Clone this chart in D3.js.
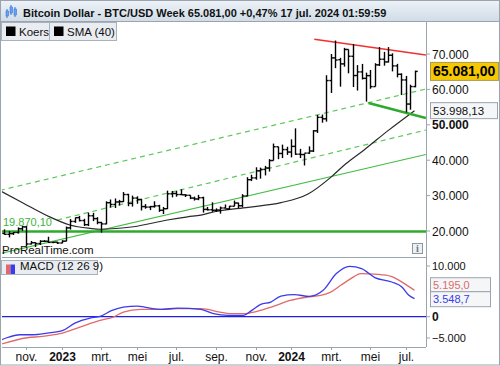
<!DOCTYPE html>
<html>
<head>
<meta charset="utf-8">
<script src="https://cdn.jsdelivr.net/npm/d3@7"></script>
<style>
  body { margin: 0; background: #fff; }
  svg { display: block; font-family: "Liberation Sans", Arial, sans-serif; }
</style>
</head>
<body>
<div id="chart"></div>
<script>
// weekly bars, first monday 2022-10-03
const firstWeek = "2022-10-03";
const opens  = [19310,19070,19260,19570,20630,21160,16330,16700,16460,17090,17100,16780,16840,16610,17130,20880,22700,23770,22950,21790,24300,23500,22400,22000,28000,27500,28200,28300,30300,27800,29300,28900,26900,26750,26900,27100,25850,26300,30500,30600,30300,30230,30090,29300,29050,29400,26100,26000,25850,25900,26500,26250,27000,27900,27150,29900,34500,35000,37000,37400,37800,39900,43800,41900,43000,42300,43900,41700,41600,42000,42600,48300,52100,51700,62500,68900,68390,67210,71280,69360,63920,64940,63120,63890,60790,66940,68520,67760,69640,66640,64260,62670,55860,60800];
const highs  = [20460,19950,19700,21010,21470,21470,17190,16800,17390,17430,18380,16960,16970,17400,21260,23370,23800,24250,23450,25200,25130,23900,22600,28400,28900,29200,28800,31000,30500,30000,29800,29100,27600,27100,28400,27400,26800,31400,31300,31400,31800,30400,30100,29700,30200,29700,26800,28100,26400,26900,27500,27100,28600,28000,30400,35200,35900,38000,37900,38400,40300,44700,43800,44400,43800,45900,49000,43200,41900,43900,48500,52800,52900,64000,70000,73800,68920,71730,71290,72800,66870,67200,64730,65500,67400,71950,70600,71950,70190,67220,64540,63800,61340,65300];
const lows   = [18960,18190,18890,19260,20050,15590,16240,15480,16060,16870,16600,16560,16340,16550,17100,20400,22300,22700,21400,21400,22800,21900,19550,21900,26600,26500,27200,28200,27000,26900,27700,25800,26300,25900,26600,25400,24800,26200,29500,29700,30200,29600,29000,28600,28700,25200,25800,25400,25400,24900,26400,26000,27000,26500,26700,29800,34100,34500,34800,35700,36800,39900,40300,40600,41500,40800,41500,40600,38500,41800,42300,47700,50600,50900,59000,66000,60770,66430,64550,60660,59680,62800,56550,60190,60800,66600,66700,67600,65080,63400,58400,53500,54280,60600];
const closes = [19070,19260,19570,20630,21160,16330,16700,16460,17090,17100,16780,16840,16610,17130,20880,22700,23770,22950,21790,24300,23500,22400,22000,28000,27500,28200,28300,30300,27800,29300,28900,26900,26750,26900,27100,25850,26300,30500,30600,30300,30230,30090,29300,29050,29400,26100,26000,25850,25900,26500,26250,27000,27900,27150,29900,34500,35000,37000,37400,37800,39900,43800,41900,43000,42300,43900,41700,41600,42000,42600,48300,52100,51700,62500,68900,68300,67210,71280,69360,63920,64940,63120,63890,60790,66940,68520,67760,69640,66640,64260,62670,55860,60800,65081];

// SMA (40)
const smaDates  = ["2022-09-26","2022-11-01","2022-12-14","2023-01-15","2023-02-16","2023-03-04","2023-04-26","2023-06-19","2023-07-21","2023-08-11","2023-09-03","2023-10-25","2023-12-16","2024-01-28","2024-03-05","2024-03-28","2024-04-26","2024-06-04","2024-07-15"];
const smaValues = [31400,28000,24000,21700,20750,20500,21200,23100,24000,24500,25500,26700,28000,30450,35300,39000,42900,48500,53998.13];

// trend lines drawn on the chart [start date, start price, end date, end price]
const upperChannel = ["2022-09-26", 31470, "2024-08-02", 60110];
const midChannel   = ["2022-12-26", 23100, "2024-08-02", 48530];
const lowerTrend   = ["2022-09-26", 13590, "2024-08-02", 41610];
const topLine      = ["2024-02-07", 74150, "2024-08-02", 69720];
const supportLine  = ["2024-05-03", 56160, "2024-08-02", 51920];
const support = 19870.10;

// MACD (12 26 9)
const macdDates  = ["2022-09-26","2022-10-07","2022-10-28","2022-11-17","2022-12-10","2023-01-04","2023-01-23","2023-02-16","2023-03-04","2023-03-23","2023-04-10","2023-05-02","2023-05-18","2023-06-08","2023-07-05","2023-08-11","2023-08-31","2023-09-23","2023-10-18","2023-10-29","2023-11-14","2023-11-30","2023-12-16","2024-01-06","2024-01-30","2024-02-21","2024-03-13","2024-04-03","2024-04-22","2024-05-13","2024-06-09","2024-06-25","2024-07-06","2024-07-15"];
const macdValues = [-4700,-4150,-3560,-3560,-3240,-2700,-1270,-280,60,1250,1900,2100,1780,1440,1700,1440,590,260,260,1100,2430,2890,4070,4350,4010,5200,8500,9940,9490,7710,6840,5850,4210,3548.7];
const signalDates  = ["2022-09-26","2022-11-08","2022-12-03","2022-12-30","2023-01-31","2023-03-04","2023-03-25","2023-04-10","2023-05-07","2023-06-08","2023-07-05","2023-08-11","2023-09-10","2023-09-26","2023-10-17","2023-11-08","2023-12-04","2023-12-31","2024-01-27","2024-02-17","2024-03-04","2024-03-20","2024-04-05","2024-04-21","2024-05-18","2024-06-08","2024-06-29","2024-07-15"];
const signalValues = [-5500,-4150,-3890,-3360,-2060,-730,-80,910,1440,1440,1580,1580,910,590,590,1050,2040,3220,3870,4210,4860,6190,7510,8500,8360,7960,6520,5195.0];

const priceTicks = [20000,30000,40000,50000,60000,70000];
const macdTicks = [-5000,0,10000];
const monthTicks = ["2022-11-07","2023-01-02","2023-03-06","2023-05-01","2023-07-03","2023-09-04","2023-11-06","2024-01-01","2024-03-04","2024-05-06","2024-07-01"];
const monthLabels = ["nov.","2023","mrt.","mei","jul.","sep.","nov.","2024","mrt.","mei","jul."];

const title = "Bitcoin Dollar - BTC/USD Week 65.081,00 +0,47% 17 jul. 2024 01:59:59";

const W = 500, H = 366;
const left = 2, right = 426;
const priceTop = 22, priceBottom = 257;
const macdTop = 257, macdBottom = 347;
const frame = "#9aa4ae";

const parse = d3.utcParse("%Y-%m-%d");
const nl = d3.formatLocale({decimal: ",", thousands: ".", grouping: [3], currency: ["", ""]});
const fmt0 = nl.format(",.0f"), fmt1 = nl.format(",.1f"), fmt2 = nl.format(",.2f");

const x = d3.scaleUtc()
    .domain([parse("2023-01-01"), parse("2024-01-01")])
    .range([61, 291]);
const y = d3.scaleLinear().domain([20000, 70000]).range([231, 54]);
const ym = d3.scaleLinear().domain([0, 10000]).range([316.7, 266]);

const weeks = d3.utcMonday.range(parse(firstWeek), d3.utcDay.offset(parse(firstWeek), 7 * closes.length));

const svg = d3.select("#chart").append("svg")
    .attr("width", W)
    .attr("height", H);

const defs = svg.append("defs");
const grad = defs.append("linearGradient").attr("id", "hdr").attr("x1", 0).attr("y1", 0).attr("x2", 0).attr("y2", 1);
grad.append("stop").attr("offset", "0%").attr("stop-color", "#eef3f8");
grad.append("stop").attr("offset", "100%").attr("stop-color", "#cfdbe6");
defs.append("clipPath").attr("id", "clipPrice").append("rect")
    .attr("x", left).attr("y", priceTop).attr("width", right - left).attr("height", priceBottom - priceTop);
defs.append("clipPath").attr("id", "clipMacd").append("rect")
    .attr("x", left).attr("y", macdTop).attr("width", right - left).attr("height", macdBottom - macdTop);

svg.append("rect").attr("width", W).attr("height", H).attr("fill", "#fff");

function header() {
    svg.append("rect").attr("x", 0).attr("y", 0).attr("width", W).attr("height", priceTop)
        .attr("fill", "url(#hdr)");
    svg.append("line").attr("x1", 0).attr("x2", W).attr("y1", priceTop - 0.5).attr("y2", priceTop - 0.5)
        .attr("stroke", frame);
    // little candle icon
    const icon = [[6, 9, 18, 11, 16], [10, 5, 15, 7, 13], [14, 7, 17, 9, 15]];
    icon.forEach(c => {
        svg.append("line").attr("x1", c[0] + 1).attr("x2", c[0] + 1).attr("y1", c[1]).attr("y2", c[2])
            .attr("stroke", "#3b78d8").attr("stroke-width", 1);
        svg.append("rect").attr("x", c[0]).attr("y", c[3]).attr("width", 2.5).attr("height", c[4] - c[3])
            .attr("fill", "#6aa0ee").attr("stroke", "#3b78d8").attr("stroke-width", 0.6);
    });
    svg.append("text")
        .attr("x", 23).attr("y", 17)
        .attr("font-size", 11).attr("font-weight", "bold").attr("fill", "#111")
        .text(title);
}

function legendBox(x0, w, y0, h, label, colors) {
    svg.append("rect").attr("x", x0 + 0.5).attr("y", y0 + 0.5).attr("width", w).attr("height", h)
        .attr("fill", "#e9edf1").attr("stroke", "#a9b2ba");
    colors.forEach((c, i) => {
        svg.append("rect").attr("x", x0 + 5 + i * 4.5).attr("y", y0 + 4.5)
            .attr("width", colors.length > 1 ? 4.5 : 9.5).attr("height", 9.5).attr("fill", c);
    });
    svg.append("text").attr("x", x0 + (colors.length > 1 ? 19 : 18)).attr("y", y0 + h - 4.5)
        .attr("font-size", 11.5).attr("fill", "#111").text(label);
}

function pricePanel() {
    const g = svg.append("g").attr("clip-path", "url(#clipPrice)");

    const seg = (l, color, width, dash) => g.append("line")
        .attr("x1", x(parse(l[0]))).attr("y1", y(l[1]))
        .attr("x2", x(parse(l[2]))).attr("y2", y(l[3]))
        .attr("stroke", color).attr("stroke-width", width)
        .attr("stroke-dasharray", dash || null);

    seg(upperChannel, "#5cc85c", 1.2, "5,4");
    seg(midChannel, "#5cc85c", 1.2, "5,4");
    seg(lowerTrend, "#46be46", 1.2);

    g.append("line").attr("x1", left).attr("x2", right).attr("y1", y(support)).attr("y2", y(support))
        .attr("stroke", "#2eaa2e").attr("stroke-width", 2.6);

    // SMA 40
    g.append("path")
        .datum(smaDates.map((d, i) => [parse(d), smaValues[i]]))
        .attr("fill", "none").attr("stroke", "#2a2a2a").attr("stroke-width", 1.2)
        .attr("d", d3.line().x(d => x(d[0])).y(d => y(d[1])).curve(d3.curveMonotoneX));

    seg(topLine, "#f03030", 1.4);
    seg(supportLine, "#2eaa2e", 2.6);

    // OHLC bars
    const bars = g.append("g").attr("stroke", "#000").attr("stroke-width", 1.4);
    weeks.forEach((w, i) => {
        const cx = Math.round(x(w)) + 0.5;
        bars.append("line").attr("x1", cx).attr("x2", cx).attr("y1", y(highs[i])).attr("y2", y(lows[i]));
        bars.append("line").attr("x1", cx - 2.2).attr("x2", cx).attr("y1", y(opens[i])).attr("y2", y(opens[i]));
        bars.append("line").attr("x1", cx).attr("x2", cx + 2.2).attr("y1", y(closes[i])).attr("y2", y(closes[i]));
    });

    svg.append("text").attr("x", 3).attr("y", y(support) - 5)
        .attr("font-size", 11).attr("fill", "#3cb43c").text(fmt2(support));
    svg.append("text").attr("x", 2).attr("y", 254)
        .attr("font-size", 11.5).attr("fill", "#111").text("ProRealTime.com");

    // info icon
    svg.append("rect").attr("x", 412.5).attr("y", 243.5).attr("width", 10).attr("height", 10)
        .attr("fill", "#eef1f4").attr("stroke", "#8a96a2");
    svg.append("text").attr("x", 417.5).attr("y", 252).attr("text-anchor", "middle")
        .attr("font-size", 10).attr("font-weight", "bold").attr("font-family", "Liberation Serif, serif")
        .attr("fill", "#6a7682").text("i");

    // right axis
    priceTicks.forEach(t => {
        svg.append("line").attr("x1", right).attr("x2", right + 4).attr("y1", y(t)).attr("y2", y(t))
            .attr("stroke", frame);
        svg.append("text").attr("x", 432).attr("y", y(t) + 4.5)
            .attr("font-size", 12).attr("font-weight", t === 50000 ? "bold" : "normal")
            .attr("fill", "#111").text(fmt0(t));
    });

    const last = closes[closes.length - 1];
    const smaLast = smaValues[smaValues.length - 1];
    svg.append("rect").attr("x", 430.5).attr("y", y(last) - 9).attr("width", 68).attr("height", 18)
        .attr("fill", "#f6c800").attr("stroke", "#a89a5a");
    svg.append("text").attr("x", 433).attr("y", y(last) + 5)
        .attr("font-size", 14).attr("font-weight", "bold").attr("fill", "#000").text(fmt2(last));
    svg.append("rect").attr("x", 430.5).attr("y", y(smaLast) - 8).attr("width", 67).attr("height", 16)
        .attr("fill", "#f4f6f8").attr("stroke", frame);
    svg.append("text").attr("x", 433).attr("y", y(smaLast) + 4.5)
        .attr("font-size", 11.5).attr("fill", "#111").text(fmt2(smaLast));

    legendBox(1, 48, priceTop, 18, "Koers", ["#000"]);
    legendBox(49, 67, priceTop, 18, "SMA (40)", ["#000"]);
}

function macdPanel() {
    const g = svg.append("g").attr("clip-path", "url(#clipMacd)");
    g.append("line").attr("x1", left).attr("x2", right).attr("y1", ym(0)).attr("y2", ym(0))
        .attr("stroke", "#2020e0").attr("stroke-width", 1.2);

    const line = d3.line().x(d => x(d[0])).y(d => ym(d[1])).curve(d3.curveMonotoneX);
    g.append("path")
        .datum(signalDates.map((d, i) => [parse(d), signalValues[i]]))
        .attr("fill", "none").attr("stroke", "#e06a6a").attr("stroke-width", 1.3).attr("d", line);
    g.append("path")
        .datum(macdDates.map((d, i) => [parse(d), macdValues[i]]))
        .attr("fill", "none").attr("stroke", "#3b3bec").attr("stroke-width", 1.3).attr("d", line);

    macdTicks.forEach(t => {
        const ty = Math.min(ym(t), macdBottom - 9);
        svg.append("line").attr("x1", right).attr("x2", right + 4).attr("y1", ty).attr("y2", ty)
            .attr("stroke", frame);
        svg.append("text").attr("x", 432).attr("y", ty + 4)
            .attr("font-size", t === 0 ? 12 : 11).attr("font-weight", t === 0 ? "bold" : "normal")
            .attr("fill", "#111").text(fmt0(t));
    });

    const mLast = macdValues[macdValues.length - 1];
    const sLast = signalValues[signalValues.length - 1];
    const by = ym(mLast);
    const ry = Math.min(ym(sLast), by - 14);
    svg.append("rect").attr("x", 430.5).attr("y", ry - 7).attr("width", 60).attr("height", 14)
        .attr("fill", "#f4f6f8").attr("stroke", frame);
    svg.append("text").attr("x", 433).attr("y", ry + 4).attr("font-size", 11)
        .attr("fill", "#e06a6a").text(fmt1(sLast));
    svg.append("rect").attr("x", 430.5).attr("y", by - 7).attr("width", 60).attr("height", 15)
        .attr("fill", "#f4f6f8").attr("stroke", frame);
    svg.append("text").attr("x", 433).attr("y", by + 4.5).attr("font-size", 11)
        .attr("fill", "#3b3bec").text(fmt1(mLast));

    legendBox(1, 96, 260, 14, "MACD (12 26 9)", ["#e06a6a", "#3b3bec"]);
}

function timeAxis() {
    monthTicks.forEach((d, i) => {
        const tx = Math.round(x(parse(d))) + 0.5;
        svg.append("line").attr("x1", tx).attr("x2", tx).attr("y1", macdBottom).attr("y2", macdBottom + 3)
            .attr("stroke", frame);
        const isYear = /^\d{4}$/.test(monthLabels[i]);
        svg.append("text").attr("x", tx).attr("y", 361).attr("text-anchor", "middle")
            .attr("font-size", 12).attr("font-weight", isYear ? "bold" : "normal")
            .attr("fill", "#111").text(monthLabels[i]);
    });
}

header();
pricePanel();
macdPanel();
timeAxis();

// frames
svg.append("line").attr("x1", left).attr("x2", right).attr("y1", priceBottom + 0.5).attr("y2", priceBottom + 0.5)
    .attr("stroke", frame);
svg.append("line").attr("x1", left).attr("x2", right).attr("y1", macdBottom + 0.5).attr("y2", macdBottom + 0.5)
    .attr("stroke", frame);
svg.append("line").attr("x1", right + 0.5).attr("x2", right + 0.5).attr("y1", priceTop).attr("y2", macdBottom)
    .attr("stroke", frame);
svg.append("rect").attr("x", 0.5).attr("y", 0.5).attr("width", W - 1).attr("height", H - 1.5)
    .attr("fill", "none").attr("stroke", frame);
</script>
</body>
</html>
